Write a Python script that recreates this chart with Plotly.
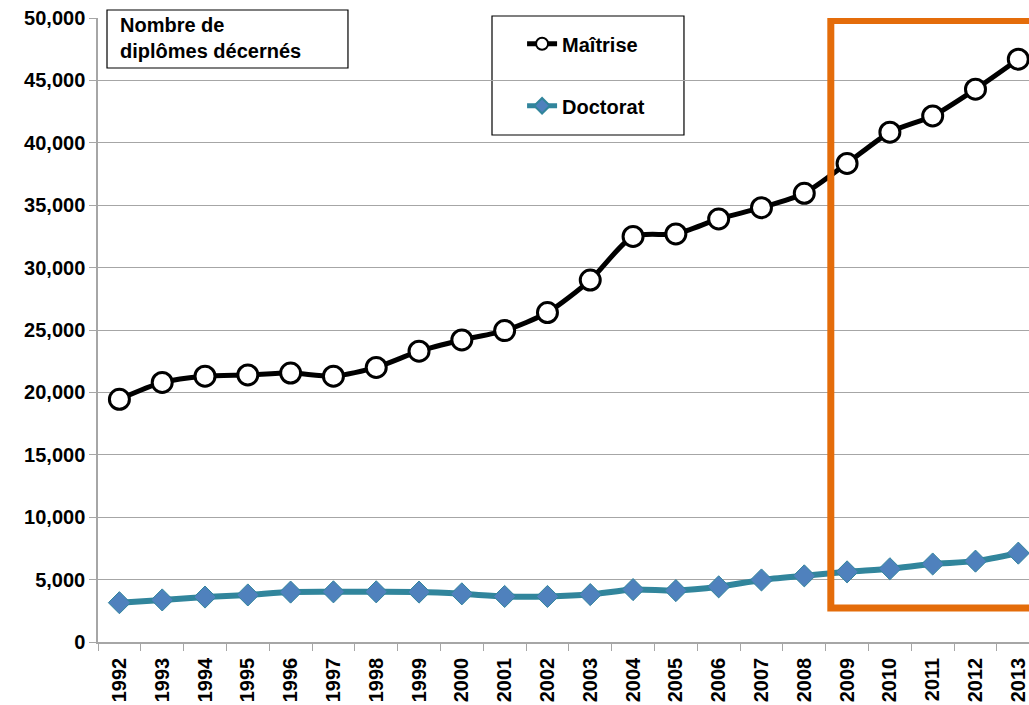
import plotly.graph_objects as go

years = [str(y) for y in range(1992, 2014)]
maitrise = [19450, 20800, 21300, 21400, 21550, 21300, 22000, 23300, 24200, 24950,
            26400, 29000, 32500, 32700, 33900, 34800, 35950, 38350, 40850, 42150,
            44300, 46700]
doctorat = [3150, 3370, 3600, 3770, 4000, 4020, 4020, 4000, 3860, 3650,
            3650, 3800, 4200, 4120, 4420, 4970, 5300, 5620, 5870, 6250,
            6480, 7120]

FONT = "Liberation Sans, Arial, sans-serif"

fig = go.Figure()
fig.add_trace(go.Scatter(
    x=years, y=maitrise, name="<b>Maîtrise</b>", mode="lines+markers",
    line=dict(color="black", width=5, shape="spline", smoothing=0.7),
    marker=dict(symbol="circle", size=20, color="white",
                line=dict(color="black", width=3)),
    legendgroup="a"))
fig.add_trace(go.Scatter(
    x=years, y=doctorat, name="<b>Doctorat</b>", mode="lines+markers",
    line=dict(color="#31859C", width=6, shape="spline", smoothing=0.7),
    marker=dict(symbol="diamond", size=17, color="#4F81BD",
                line=dict(color="#31859C", width=1)),
    legendgroup="b"))

fig.update_layout(
    width=1029, height=705,
    margin=dict(l=98, r=0, t=18, b=63),
    paper_bgcolor="white", plot_bgcolor="white",
    font=dict(family=FONT, size=20, color="black"),
    showlegend=True,
    legend=dict(x=0.4555, y=0.99, xanchor="left", yanchor="top",
                bgcolor="rgba(0,0,0,0)", borderwidth=0,
                traceorder="grouped", tracegroupgap=33,
                itemsizing="constant",
                font=dict(family=FONT, size=20, color="black"),
                itemwidth=30),
    xaxis=dict(type="category", range=[-0.5, 21.25], tickangle=-90,
               tickson="boundaries", ticks="outside", ticklen=7,
               tickcolor="#A6A6A6", showline=True, linecolor="#A6A6A6",
               linewidth=1.5, showgrid=False, ticklabelstandoff=6,
               tickfont=dict(family=FONT, size=20, color="black"),
               tickprefix="<b>", ticksuffix="</b>"),
    yaxis=dict(range=[0, 50000], dtick=5000, tickformat=",", ticks="outside",
               ticklen=7, tickcolor="#A6A6A6", showline=True,
               linecolor="#A6A6A6", linewidth=1.5, showgrid=True,
               gridcolor="#A6A6A6", gridwidth=1, zeroline=False,
               tickfont=dict(family=FONT, size=20, color="black"),
               tickprefix="<b>", ticksuffix="</b>"),
)

# Orange highlight rectangle (2009-2013)
fig.add_shape(type="rect", xref="x", yref="y", x0=16.62, x1=21.6,
              y0=2724, y1=49800, line=dict(color="#E46C0A", width=7),
              layer="above")

# Title box
fig.add_shape(type="rect", xref="paper", yref="paper",
              x0=0.00967, x1=0.2685, y0=0.9199, y1=1.0128,
              line=dict(color="black", width=1.2), fillcolor="white",
              layer="above")
fig.add_annotation(xref="paper", yref="paper", x=0.0215, y=1.009,
                   xanchor="left", yanchor="top", align="left",
                   showarrow=False,
                   text="<b>Nombre de<br>diplômes décernés</b>",
                   font=dict(family=FONT, size=20, color="black"))

# Legend box
fig.add_shape(type="rect", xref="paper", yref="paper",
              x0=0.4232, x1=0.6294, y0=0.8125, y1=1.0032,
              line=dict(color="black", width=1.2), fillcolor="white",
              layer="below")

fig.write_html(
    "out.html",
    config={"displayModeBar": False},
    post_script="document.body.style.margin='0';document.body.style.overflow='hidden';",
)
